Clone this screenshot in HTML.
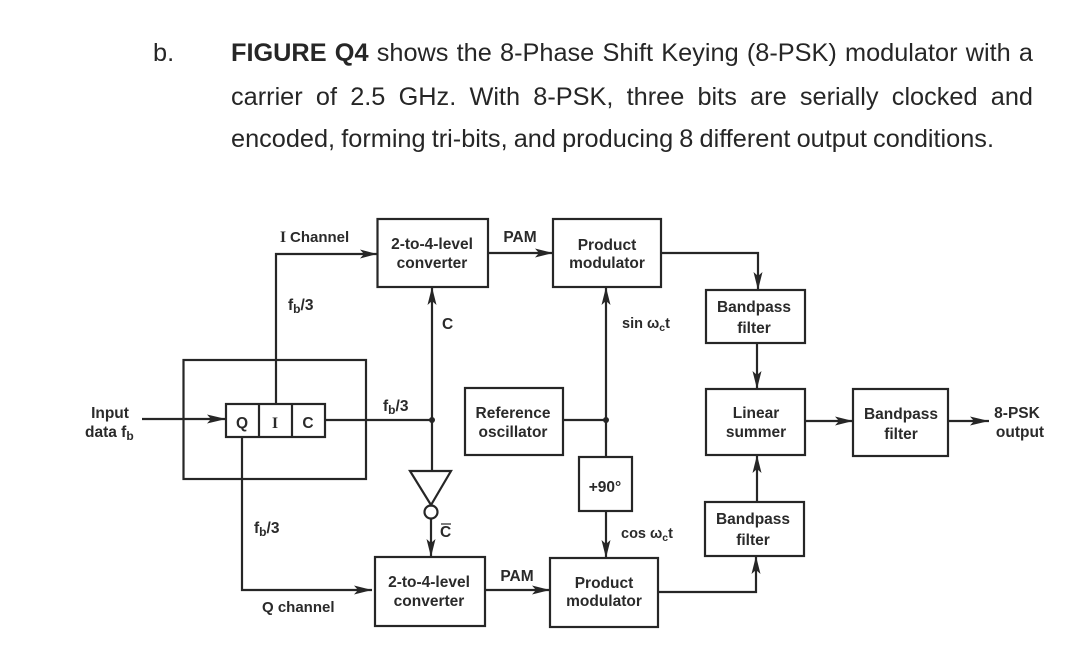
<!DOCTYPE html>
<html>
<head>
<meta charset="utf-8">
<style>
html,body{margin:0;padding:0;background:#fff;}
#p{position:relative;width:1088px;height:670px;overflow:hidden;background:#fff;font-family:"Liberation Sans",sans-serif;color:#262626;}
.l{position:absolute;left:231px;width:802px;font-size:25.3px;line-height:30px;white-space:nowrap;text-align:justify;text-align-last:justify;}
svg{position:absolute;left:0;top:0;}
svg text{font-family:"Liberation Sans",sans-serif;font-weight:bold;font-size:15.5px;fill:#2a2a2a;}
.m{text-anchor:middle;}
.s{font-family:"Liberation Serif",serif;}
</style>
</head>
<body>
<div id="p">
<div style="position:absolute;left:153px;top:38px;font-size:25.3px;line-height:30px;">b.</div>
<div class="l" style="top:38px;"><b>FIGURE Q4</b> shows the 8-Phase Shift Keying (8-PSK) modulator with a</div>
<div class="l" style="top:82px;">carrier of 2.5 GHz. With 8-PSK, three bits are serially clocked and</div>
<div class="l" style="top:124px;width:763px;word-spacing:-2.5px;">encoded, forming tri-bits, and producing 8 different output conditions.</div>
<svg width="1088" height="670" viewBox="0 0 1088 670">
<g fill="none" stroke="#262626" stroke-width="2.2">
<rect x="183.5" y="360" width="182.5" height="119"/>
<rect x="226" y="404" width="99" height="33"/>
<path d="M259 404V437M292 404V437"/>
<rect x="377.5" y="219" width="110.500" height="68"/>
<rect x="553" y="219" width="108" height="68"/>
<rect x="465" y="388" width="98" height="67"/>
<rect x="579" y="457" width="53" height="54"/>
<rect x="375" y="557" width="110" height="69"/>
<rect x="550" y="558" width="108" height="69"/>
<rect x="706" y="290" width="99" height="53"/>
<rect x="706" y="389" width="99" height="66"/>
<rect x="705" y="502" width="99" height="54"/>
<rect x="853" y="389" width="95" height="67"/>
<path d="M276 404V254H377"/>
<path d="M242 437V590H372"/>
<path d="M142 419H226"/>
<path d="M325 420H432"/>
<path d="M432 287V471"/>
<path d="M488 253H553"/>
<path d="M485 590H550"/>
<path d="M563 420H606"/>
<path d="M606 287V457"/>
<path d="M606 511V558"/>
<path d="M661 253H758V290"/>
<path d="M757 343V389"/>
<path d="M757 502V455"/>
<path d="M658 592H756V556"/>
<path d="M805 421H853"/>
<path d="M948 421H989"/>
<path d="M431 518V557"/>
<path d="M410 471H451L431 505Z"/>
<circle cx="431" cy="512" r="6.500"/>
<path d="M441 524H451" stroke-width="1.200"/>
</g>
<g fill="#262626">
<circle cx="432" cy="420" r="3"/>
<circle cx="606" cy="420" r="3"/>
<path d="M226 419L207 414.500L211 419L207 423.500Z"/>
<path d="M377 254L360 249.500L364 254L360 258.500Z"/>
<path d="M553 253L535 248.500L539 253L535 257.500Z"/>
<path d="M372 590L354 585.500L358 590L354 594.500Z"/>
<path d="M550 590L532 585.500L536 590L532 594.500Z"/>
<path d="M853 421L835 416.500L839 421L835 425.500Z"/>
<path d="M989 421L970 416.500L974 421L970 425.500Z"/>
<path d="M432 287L427.500 305L432 301L436.500 305Z"/>
<path d="M606 287L601.500 305L606 301L610.500 305Z"/>
<path d="M431 557L426.500 539L431 543L435.500 539Z"/>
<path d="M606 558L601.500 540L606 544L610.500 540Z"/>
<path d="M758 290L753.500 272L758 276L762.500 272Z"/>
<path d="M757 389L752.500 371L757 375L761.500 371Z"/>
<path d="M757 455L752.500 473L757 469L761.500 473Z"/>
<path d="M756 556L751.500 574L756 570L760.500 574Z"/>
</g>
<text x="280" y="242" class="s">I</text>
<text x="290" y="242" style="font-size:15px">Channel</text>
<text x="432" y="249" class="m">2-to-4-level</text>
<text x="432" y="268" class="m">converter</text>
<text x="520" y="242" class="m">PAM</text>
<text x="607" y="250" class="m">Product</text>
<text x="607" y="268" class="m">modulator</text>
<text x="288" y="310">f<tspan style="font-size:12px" dy="3">b</tspan><tspan dy="-3">/3</tspan></text>
<text x="442" y="329">C</text>
<text x="622" y="328" style="font-size:14.5px">sin ω<tspan style="font-size:10.5px" dy="3">c</tspan><tspan dy="-3">t</tspan></text>
<text x="383" y="411">f<tspan style="font-size:12px" dy="3">b</tspan><tspan dy="-3">/3</tspan></text>
<text x="513" y="418" class="m">Reference</text>
<text x="513" y="437" class="m">oscillator</text>
<text x="242" y="428" class="m">Q</text>
<text x="275" y="428" class="m s">I</text>
<text x="308" y="428" class="m">C</text>
<text x="110" y="418" class="m">Input</text>
<text x="85" y="437">data f<tspan style="font-size:12px" dy="3">b</tspan></text>
<text x="254" y="533">f<tspan style="font-size:12px" dy="3">b</tspan><tspan dy="-3">/3</tspan></text>
<text x="262" y="612" style="font-size:15px">Q channel</text>
<text x="440" y="537">C</text>
<text x="621" y="538" style="font-size:14.5px">cos ω<tspan style="font-size:10.5px" dy="3">c</tspan><tspan dy="-3">t</tspan></text>
<text x="517" y="581" class="m">PAM</text>
<text x="429" y="587" class="m">2-to-4-level</text>
<text x="429" y="606" class="m">converter</text>
<text x="604" y="588" class="m">Product</text>
<text x="604" y="606" class="m">modulator</text>
<text x="605" y="492" class="m">+90°</text>
<text x="754" y="312" class="m">Bandpass</text>
<text x="754" y="333" class="m">filter</text>
<text x="756" y="418" class="m">Linear</text>
<text x="756" y="437" class="m">summer</text>
<text x="901" y="419" class="m">Bandpass</text>
<text x="901" y="439" class="m">filter</text>
<text x="753" y="524" class="m">Bandpass</text>
<text x="753" y="545" class="m">filter</text>
<text x="1017" y="418" class="m">8-PSK</text>
<text x="1020" y="437" class="m">output</text>
</svg>
</div>
</body>
</html>
